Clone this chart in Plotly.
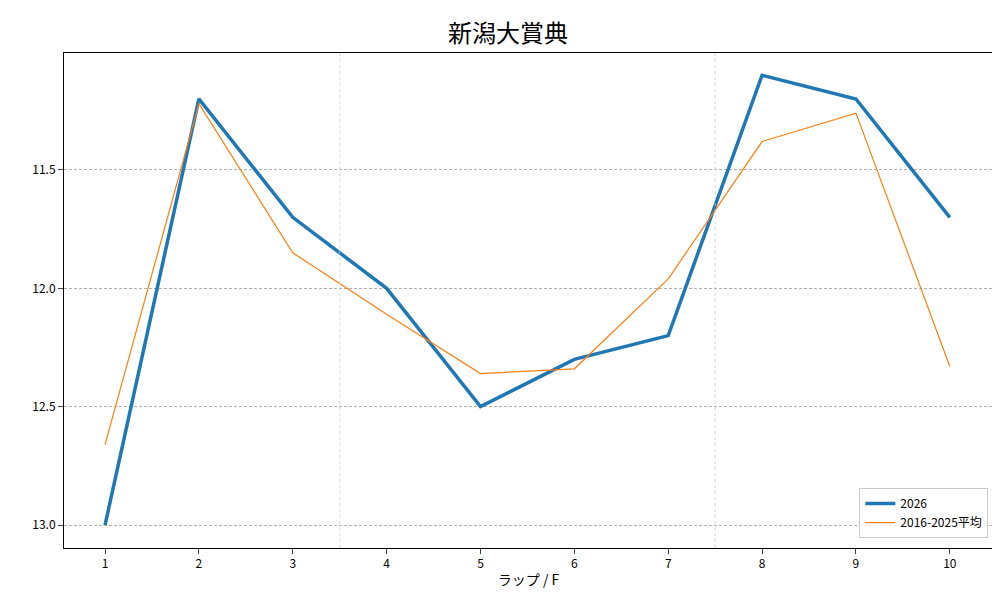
import plotly.graph_objects as go

laps = list(range(1, 11))
lap_2026 = [13.0, 11.2, 11.7, 12.0, 12.5, 12.3, 12.2, 11.1, 11.2, 11.7]
lap_avg = [12.66, 11.22, 11.85, 12.11, 12.36, 12.34, 11.96, 11.38, 11.26, 12.33]
y_ticks = [11.5, 12.0, 12.5, 13.0]
section_marks = [3.5, 7.5]

font = "Noto Sans CJK JP"

fig = go.Figure()
fig.add_trace(go.Scatter(x=laps, y=lap_2026, mode="lines", name="2026",
                         line=dict(color="#1f77b4", width=3.5)))
fig.add_trace(go.Scatter(x=laps, y=lap_avg, mode="lines", name="2016-2025平均",
                         line=dict(color="#ff7f0e", width=1.2)))

for xm in section_marks:
    fig.add_vline(x=xm, line=dict(color="#c8c8c8", width=0.7, dash="dot"))

fig.update_layout(
    width=1000, height=600,
    margin=dict(l=56, r=15, t=45, b=60, autoexpand=False),
    plot_bgcolor="white", paper_bgcolor="white",
    font=dict(family=font, size=12, color="black"),
    title=dict(text="新潟大賞典", x=0.5, xanchor="center", y=0.957, yanchor="middle",
               font=dict(size=24), automargin=False),
    xaxis=dict(range=[0.563, 10.46], tickvals=laps, showgrid=False, automargin=False,
               showline=True, linecolor="black", mirror=True, ticks="outside",
               title=dict(text="ラップ / F", standoff=4, font=dict(size=14))),
    yaxis=dict(range=[13.097, 11.006], tickvals=y_ticks, ticktext=["11.5", "12.0", "12.5", "13.0"],
               showgrid=True, gridcolor="#b0b0b0", griddash="3px,2px", gridwidth=0.5,
               automargin=False,
               showline=True, linecolor="black", mirror=True, ticks="outside", zeroline=False),
    legend=dict(x=0.995, y=0.02, xanchor="right", yanchor="bottom",
                bordercolor="#cccccc", borderwidth=1, bgcolor="rgba(255,255,255,0.8)"),
)

fig.write_html("out.html")
